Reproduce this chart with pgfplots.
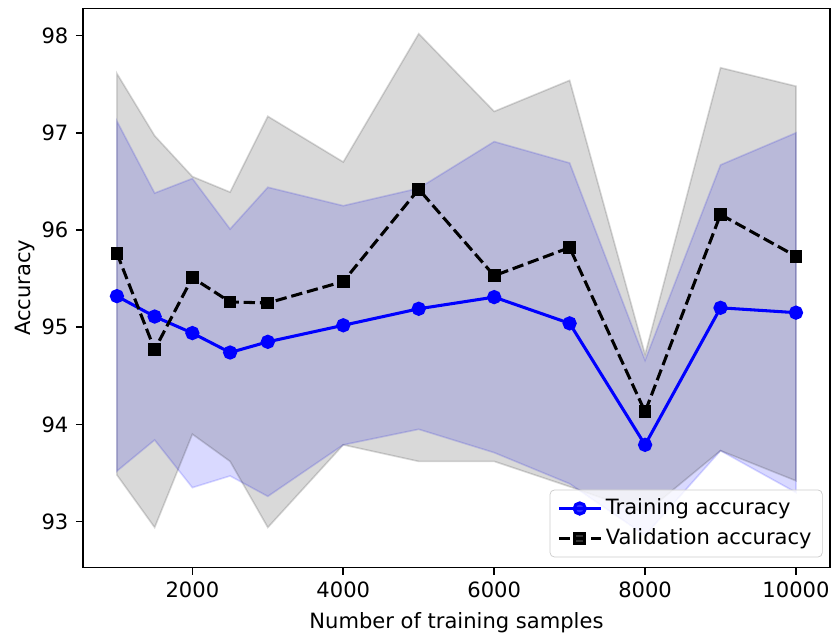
\documentclass[border=0pt]{standalone}
\usepackage{fontspec}
\setmainfont{DejaVu Sans}
\usepackage{pgfplots}
\usepackage{pgfplotstable}
\pgfplotsset{compat=1.18}
\usepgfplotslibrary{fillbetween}

\pgfplotstableread{
x     tmean tup   tlo   vmean vup   vlo
1000  95.32 97.12 93.52 95.76 97.61 93.48
1500  95.11 96.38 93.84 94.77 96.97 92.94
2000  94.94 96.53 93.35 95.51 96.55 93.90
2500  94.74 96.01 93.47 95.26 96.39 93.62
3000  94.85 96.44 93.26 95.25 97.17 92.94
4000  95.02 96.25 93.79 95.47 96.70 93.79
5000  95.19 96.43 93.95 96.42 98.02 93.62
6000  95.31 96.91 93.71 95.53 97.22 93.62
7000  95.04 96.69 93.39 95.82 97.54 93.36
8000  93.79 94.66 92.86 94.13 94.72 93.09
9000  95.20 96.67 93.73 96.16 97.67 93.73
10000 95.15 97.00 93.30 95.73 97.48 93.42
}\data

\begin{document}
\fontsize{11.7}{14}\selectfont
\begin{tikzpicture}[font=\fontsize{11.7}{14}\selectfont]
\begin{axis}[
  name=ax,
  width=415pt, height=310.5pt, scale only axis,
  xmin=550, xmax=10450, ymin=92.53, ymax=98.28,
  xtick={2000,4000,6000,8000,10000},
  ytick={93,94,95,96,97,98},
  tick pos=left, tick align=outside,
  major tick length=4pt,
  every tick/.style={black, line width=0.9pt},
  axis line style={line width=0.9pt},
  scaled x ticks=false,
  tick label style={font=\fontsize{11.7}{14}\selectfont},
  label style={font=\fontsize{11.7}{14}\selectfont},
  ylabel style={yshift=-4.4pt},
  xticklabel style={/pgf/number format/1000 sep={}},
  /pgf/number format/assume math mode=true,
  xlabel={Number of training samples},
  ylabel={Accuracy},
  legend cell align=left,
  legend image code/.code={\draw[mark repeat=2,mark phase=2] plot coordinates {(0cm,0cm) (0.41cm,0cm) (0.82cm,0cm)};},
  legend style={at={(axis description cs:1,0)}, anchor=south east,
    xshift=-4pt, yshift=5.5pt, draw=black!20, rounded corners=2.5pt,
    fill=white, fill opacity=0.8, text opacity=1, draw opacity=1,
    inner xsep=4pt, inner ysep=3pt, row sep=2pt,
    font=\fontsize{11.7}{14}\selectfont},
]
\addplot[name path=tu, draw=none, forget plot] table[x=x,y=tup]{\data};
\addplot[name path=tl, draw=none, forget plot] table[x=x,y=tlo]{\data};
\addplot[fill=blue, fill opacity=0.15, draw=blue, draw opacity=0.15, line width=0.9pt, forget plot] fill between[of=tu and tl];
\addplot[name path=vu, draw=none, forget plot] table[x=x,y=vup]{\data};
\addplot[name path=vl, draw=none, forget plot] table[x=x,y=vlo]{\data};
\addplot[fill=black, fill opacity=0.15, draw=black, draw opacity=0.15, line width=0.9pt, forget plot] fill between[of=vu and vl];

\addplot[blue, line width=1.7pt, mark=*, mark size=3.1pt, mark options={solid}] table[x=x,y=tmean]{\data};
\addlegendentry{Training accuracy}
\addplot[black, line width=1.7pt, dash pattern=on 6.3pt off 2.7pt, mark=square*, mark size=2.7pt, mark options={solid}] table[x=x,y=vmean]{\data};
\addlegendentry{Validation accuracy}
\end{axis}
\pgfresetboundingbox
\path[use as bounding box] ([xshift=-46.1pt,yshift=-36.1pt]ax.south west) rectangle ([xshift=0.6pt,yshift=4.7pt]ax.north east);
\end{tikzpicture}
\end{document}
